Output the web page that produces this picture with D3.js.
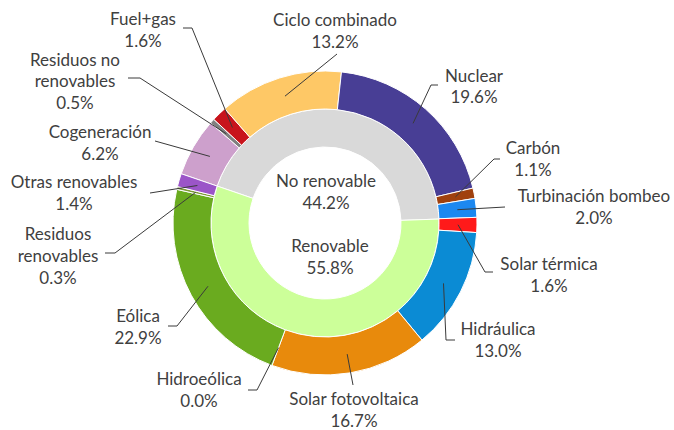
<!DOCTYPE html>
<html><head><meta charset="utf-8">
<script src="https://cdn.jsdelivr.net/npm/d3@7/dist/d3.min.js"></script>
<style>
body{margin:0;background:#fff}
text{font-family:Lato,"Open Sans",sans-serif;fill:#404040;}
</style>
</head><body>
<svg id="chart" width="674" height="430"></svg>
<script>
// ---- data ----
const outerCategories = ["Cogeneración","Residuos no renovables","Fuel+gas","Ciclo combinado","Nuclear","Carbón","Turbinación bombeo","Solar térmica","Hidráulica","Solar fotovoltaica","Hidroeólica","Eólica","Residuos renovables","Otras renovables"];
const outerValues = [6.2,0.5,1.6,13.2,19.6,1.1,2.0,1.6,13.0,16.7,0.0,22.9,0.3,1.4];
const outerLabelText = [["Cogeneración"],["Residuos no","renovables"],["Fuel+gas"],["Ciclo combinado"],["Nuclear"],["Carbón"],["Turbinación bombeo"],["Solar térmica"],["Hidráulica"],["Solar fotovoltaica"],["Hidroeólica"],["Eólica"],["Residuos","renovables"],["Otras renovables"]];
const innerCategories = ["No renovable","Renovable"];
const innerValues = [44.2,55.8];

// ---- styles ----
const outerColors = ["#cda0cc","#808080","#c8141c","#fec866","#483e95","#a0410e","#1c88f0","#ff1a1a","#0b8bd4","#e88a0c","#6aab1f","#6aab1f","#7d9a35","#9b55c8"];
const innerColors = ["#d9d9d9","#ccff99"];

// ---- layout ----
const W = 674, H = 430, cx = 325, cy = 223;
const rOuter = 152, rMid = 114, rInner = 76;
const startDeg = -71.1;
const lineH = 21.8, fontSize = 17;
// label anchor (center x, first baseline y) and leader start points
const outerLabelPos = [
  {x:100, y:138, lead:[[155,141]]},
  {x:75,  y:65.5, lead:[[128,78],[140,78]]},
  {x:143, y:25,  lead:[[183,28],[192,28]]},
  {x:335, y:26,  lead:[[337,54]]},
  {x:474, y:81.5,lead:[[438,85],[431,85]]},
  {x:533, y:154, lead:[[500,159],[494,159]]},
  {x:594, y:202, lead:[[505,207]]},
  {x:549, y:270, lead:[[493,272],[485,272]]},
  {x:498, y:335, lead:[[455,340],[446,340]]},
  {x:354, y:405, lead:[[353,385]]},
  {x:199, y:385, lead:[[248,390],[257,390]]},
  {x:138, y:322, lead:[[168,326],[177,326]]},
  {x:58,  y:240, lead:[[105,253],[115,253]]},
  {x:74,  y:188, lead:[[150,193]]}
];
const innerLabelPos = [{x:326,y:187},{x:330,y:252}];

const fmt = v => d3.format(".1f")(v) + "%";
const svg = d3.select("#chart");
svg.append("rect").attr("width",W).attr("height",H).attr("fill","#fff");
const g = svg.append("g").attr("transform",`translate(${cx},${cy})`);

const a0 = startDeg*Math.PI/180;
const pie = d3.pie().sort(null).value(d=>d.v).startAngle(a0).endAngle(a0+2*Math.PI);
const outerArcs = pie(outerCategories.map((c,i)=>({c, v:outerValues[i], i})));
const innerArcs = pie(innerCategories.map((c,i)=>({c, v:innerValues[i], i})));

const arcOuter = d3.arc().innerRadius(rMid).outerRadius(rOuter);
const arcInner = d3.arc().innerRadius(rInner).outerRadius(rMid);

g.selectAll("path.inner").data(innerArcs).join("path")
  .attr("class","inner").attr("d",arcInner)
  .attr("fill",d=>innerColors[d.data.i]).attr("stroke","#fff").attr("stroke-width",1);

g.selectAll("path.outer").data(outerArcs.filter(d=>d.data.v>0)).join("path")
  .attr("class","outer").attr("d",arcOuter)
  .attr("fill",d=>outerColors[d.data.i]).attr("stroke","#fff").attr("stroke-width",1);

// leader lines
const line = d3.line();
outerArcs.forEach(d=>{
  const p = outerLabelPos[d.data.i];
  const c = arcOuter.centroid(d);
  const pts = p.lead.map(q=>[q[0]-cx,q[1]-cy]).concat([c]);
  g.append("path").attr("d",line(pts)).attr("fill","none")
   .attr("stroke","#3a3a3a").attr("stroke-width",1);
});

// outer labels
outerArcs.forEach(d=>{
  const p = outerLabelPos[d.data.i];
  const lines = outerLabelText[d.data.i].concat([fmt(d.data.v)]);
  const t = svg.append("text").attr("text-anchor","middle").attr("font-size",fontSize);
  lines.forEach((s,k)=>t.append("tspan").attr("x",p.x).attr("y",p.y+k*lineH).text(s));
});
// inner labels
innerArcs.forEach(d=>{
  const p = innerLabelPos[d.data.i];
  const t = svg.append("text").attr("text-anchor","middle").attr("font-size",fontSize);
  [d.data.c, fmt(d.data.v)].forEach((s,k)=>t.append("tspan").attr("x",p.x).attr("y",p.y+k*lineH).text(s));
});
</script>
</body></html>
